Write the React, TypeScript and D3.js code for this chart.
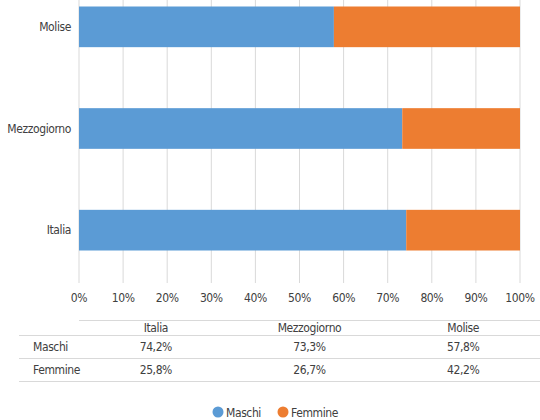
import * as d3 from "d3";

const categories = ["Italia", "Mezzogiorno", "Molise"];
const maschi = [74.2, 73.3, 57.8];
const femmine = [25.8, 26.7, 42.2];
const seriesNames = ["Maschi", "Femmine"];
const colors = ["#5B9BD5", "#ED7D31"];
const ticks = [0, 10, 20, 30, 40, 50, 60, 70, 80, 90, 100];

const W = 540;
const H = 420;
const FONT = "'Liberation Sans Narrow', 'DejaVu Sans Condensed', 'Roboto Condensed', sans-serif";

export default function App() {
    const x = d3.scaleLinear().domain([0, 100]).range([79, 520]);
    // Excel draws the first category at the bottom
    const y = d3.scaleBand().domain([...categories].reverse()).range([-24, 281]).paddingInner(0.6).paddingOuter(0.3);

    const tableL = 79;
    const tableR = 540;
    const col = d3.scaleBand().domain(categories).range([tableL, tableR]);
    const fmt = (v: number) => v.toFixed(1).replace(".", ",") + "%";

    return (
        <svg
            width={W}
            height={H}
            style={{ position: "absolute", left: 0, top: 0, fontFamily: FONT, fontStretch: "condensed", letterSpacing: "-0.4px" }}
        >
            <rect width={W} height={H} fill="#fff" />
            {ticks.map((t) => (
                <line key={t} x1={x(t)} x2={x(t)} y1={0} y2={283} stroke="#D9D9D9" strokeWidth={1} />
            ))}
            {categories.map((c, i) => (
                <g key={c}>
                    <rect x={x(0)} y={y(c)} width={x(maschi[i]) - x(0)} height={y.bandwidth()} fill={colors[0]} />
                    <rect x={x(maschi[i])} y={y(c)} width={x(100) - x(maschi[i])} height={y.bandwidth()} fill={colors[1]} />
                    <text x={71} y={y(c)! + y.bandwidth() / 2} dy="0.35em" textAnchor="end" fontSize={12} fill="#404040">
                        {c}
                    </text>
                </g>
            ))}
            {ticks.map((t) => (
                <text key={t} x={x(t)} y={302} textAnchor="middle" fontSize={12} fill="#404040">
                    {t}%
                </text>
            ))}
            {/* data table */}
            <line x1={tableL} x2={tableR} y1={320.5} y2={320.5} stroke="#D9D9D9" />
            <line x1={19} x2={tableR} y1={335.5} y2={335.5} stroke="#D9D9D9" />
            <line x1={19} x2={tableR} y1={358.5} y2={358.5} stroke="#D9D9D9" />
            <line x1={19} x2={tableR} y1={381.5} y2={381.5} stroke="#D9D9D9" />
            {categories.map((c, i) => (
                <g key={c}>
                    <text x={col(c)! + col.bandwidth() / 2} y={332} textAnchor="middle" fontSize={12} fill="#404040">
                        {c}
                    </text>
                    <text x={col(c)! + col.bandwidth() / 2} y={351} textAnchor="middle" fontSize={12} fill="#404040">
                        {fmt(maschi[i])}
                    </text>
                    <text x={col(c)! + col.bandwidth() / 2} y={374} textAnchor="middle" fontSize={12} fill="#404040">
                        {fmt(femmine[i])}
                    </text>
                </g>
            ))}
            <text x={33} y={351} fontSize={12} fill="#404040">
                {seriesNames[0]}
            </text>
            <text x={33} y={374} fontSize={12} fill="#404040">
                {seriesNames[1]}
            </text>
            {/* legend */}
            {seriesNames.map((s, i) => {
                const lx = [218, 283][i];
                return (
                    <g key={s}>
                        <circle cx={lx} cy={412} r={5.5} fill={colors[i]} />
                        <text x={lx + 8} y={417} fontSize={12} fill="#404040">
                            {s}
                        </text>
                    </g>
                );
            })}
        </svg>
    );
}
